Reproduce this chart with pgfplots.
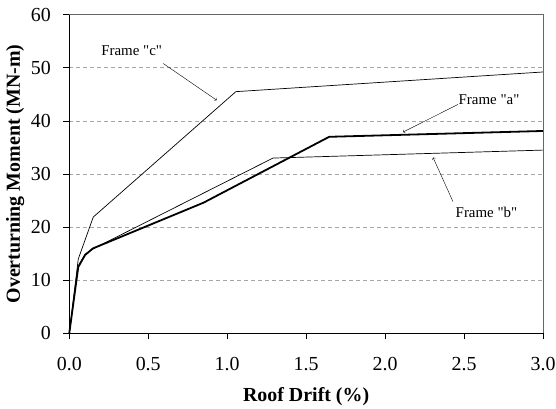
\documentclass[border=0pt]{standalone}
\usepackage{fontspec}
\setmainfont{Liberation Serif}
\newfontfamily\annfont{Liberation Serif}[Ligatures=TeXOff]
\usepackage{pgfplots}
\pgfplotsset{compat=1.18}
\begin{document}
\begin{tikzpicture}
\useasboundingbox (-69.3bp,-75.5bp) rectangle (487bp,333.6bp);
\begin{axis}[
  scale only axis,
  width=474bp, height=319bp,
  xmin=0, xmax=3, ymin=0, ymax=60,
  xtick={0,0.5,...,3}, ytick={0,10,...,60},
  axis x line*=bottom, axis y line*=left,
  axis line style={black, line width=0.8bp, -},
  tick align=outside,
  major tick length=6bp,
  tick style={black, line width=0.6bp},
  ymajorgrids,
  major grid style={gray!70, dash pattern=on 4bp off 3bp, line width=0.6bp},
  /pgf/number format/assume math mode=true,
  xticklabel style={/pgf/number format/.cd, fixed, fixed zerofill, precision=1, /tikz/.cd, yshift=-14bp},
  yticklabel style={xshift=-9bp},
  tick label style={font=\fontsize{20}{22}\selectfont},
  xlabel={\textbf{Roof Drift (\%)}},
  ylabel={\textbf{Overturning Moment (MN-m)}},
  label style={font=\fontsize{20}{22}\selectfont},
  xlabel style={at={(axis description cs:0.5,-0.199)}, anchor=center},
  ylabel style={at={(axis description cs:-0.114,0.5)}, anchor=center},
  clip=false,
]
\addplot[black, line width=1.8bp] coordinates {
(0,0) (0.057,12.5) (0.1,14.75) (0.15,16.0) (0.85,24.6) (1.646,37.0) (3.0,38.1)};
\addplot[black, line width=0.7bp] coordinates {
(0,0) (0.057,12.7) (0.1,14.9) (0.15,15.9) (1.29,33.0) (3.0,34.5)};
\addplot[black, line width=0.7bp] coordinates {
(0,0) (0.057,14.0) (0.152,21.9) (1.055,45.5) (3.0,49.2)};
\draw[gray!80!black, line width=0.8bp] (rel axis cs:0,1) -- (rel axis cs:1,1) -- (rel axis cs:1,0);
\node[font=\annfont\fontsize{15}{17}\selectfont] at (axis cs:0.395,53.2) {Frame "c"};
\node[font=\annfont\fontsize{15}{17}\selectfont] at (axis cs:2.658,44.0) {Frame "a"};
\node[font=\annfont\fontsize{15}{17}\selectfont] at (axis cs:2.642,22.7) {Frame "b"};
\draw[->, line width=0.4bp] (axis cs:0.595,50.8) -- (axis cs:0.933,43.9);
\draw[->, line width=0.4bp] (axis cs:2.462,43.1) -- (axis cs:2.114,37.9);
\draw[->, line width=0.4bp] (axis cs:2.43,24.8) -- (axis cs:2.304,33.1);
\end{axis}
\end{tikzpicture}
\end{document}
